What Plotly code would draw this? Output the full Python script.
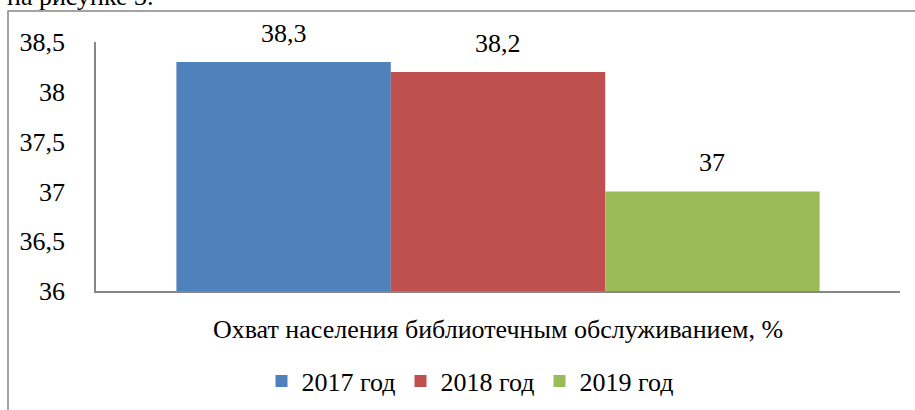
import plotly.graph_objects as go

categories = ["Охват населения библиотечным обслуживанием, %"]
series_names = ["2017 год", "2018 год", "2019 год"]
series_values = [[38.3], [38.2], [37.0]]
label_texts = ["38,3", "38,2", "37"]
colors = ["#4F81BD", "#C0504D", "#9BBB59"]
y_ticks = [36, 36.5, 37, 37.5, 38, 38.5]

FONT = "Liberation Serif"
FS = 26
W, H = 915, 410
L, R, T, B = 96, 15, 42, 119
pw, ph = W - L - R, H - T - B

fig = go.Figure()
for name, vals, col in zip(series_names, series_values, colors):
    fig.add_trace(go.Bar(name=name, x=categories, y=vals, marker=dict(color=col, line=dict(width=0)),
                         offsetgroup=name))

n = len(series_names)
for i, (vals, txt) in enumerate(zip(series_values, label_texts)):
    off = -0.4 + (i + 0.5) * 0.8 / n
    fig.add_annotation(x=off, xref="x", y=vals[0], yref="y", text=txt, showarrow=False,
                       yanchor="bottom", yshift=12, font=dict(family=FONT, size=FS, color="black"))

def px2x(p):
    return (p - L) / pw

def px2y(p):
    return (H - B - p) / ph

fig.add_shape(type="rect", xref="paper", yref="paper",
              x0=px2x(8), x1=px2x(W + 5), y0=px2y(H + 5), y1=px2y(11),
              line=dict(color="#868686", width=1.5), layer="below")

fig.add_annotation(xref="paper", yref="paper", x=px2x(156), y=px2y(13), xanchor="right", yanchor="bottom",
                   text="на рисунке 3.", showarrow=False, font=dict(family=FONT, size=FS, color="black"))

fig.update_layout(
    width=W, height=H,
    margin=dict(l=L, r=R, t=T, b=B, pad=0, autoexpand=False),
    paper_bgcolor="white", plot_bgcolor="white",
    barmode="group", bargap=0.2, bargroupgap=0,
    separators=", ",
    font=dict(family=FONT, size=FS, color="black"),
    showlegend=True,
    legend=dict(orientation="h", x=px2x(470), xanchor="center", y=px2y(381), yanchor="middle",
                font=dict(family=FONT, size=FS, color="black"), itemwidth=30, traceorder="normal"),
    xaxis=dict(type="category", showline=True, linecolor="#868686", linewidth=1.5, showgrid=False,
               ticks="", tickfont=dict(family=FONT, size=FS), ticklabelstandoff=14, automargin=False),
    yaxis=dict(range=[36, 38.5], tickvals=y_ticks, showline=True, linecolor="#868686", linewidth=1.5,
               showgrid=False, zeroline=False, ticks="", tickfont=dict(family=FONT, size=FS),
               ticklabelstandoff=24, automargin=False),
)

fig.write_html("out.html", config={"displayModeBar": False},
               post_script="document.body.style.margin='0';")
